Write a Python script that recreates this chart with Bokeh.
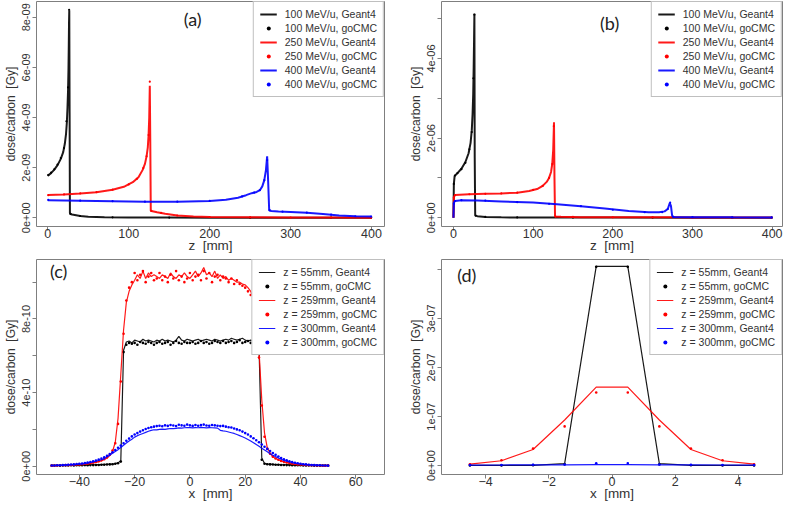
from bokeh.plotting import figure
from bokeh.models import FixedTicker, Legend, LegendItem, Label, Range1d
from bokeh.layouts import column, row
from bokeh.embed import file_html
from bokeh.resources import INLINE

# ---------------- Panel (a): depth dose, units of 1e-9 Gy ----------------
za_100 = [0, 4, 8, 12, 16, 19, 21, 22.5, 23.5, 24.3, 25.0, 25.5, 25.9, 26.2, 26.5, 26.9, 27.3, 28, 30, 35, 40, 50, 70, 100, 150, 200, 300, 400]
da_100 = [1.68, 1.78, 1.92, 2.1, 2.35, 2.62, 2.95, 3.35, 3.8, 4.4, 5.1, 5.9, 6.9, 7.8, 8.28, 4.2, 0.18, 0.15, 0.13, 0.1, 0.07, 0.04, 0.02, 0.012, 0.006, 0.004, 0.002, 0.001]
za_250 = [0, 20, 40, 60, 80, 95, 105, 112, 117, 120, 122, 123.5, 124.5, 125.3, 126, 126.6, 127.2, 128, 135, 145, 160, 180, 200, 250, 300, 350, 400]
da_250 = [0.91, 0.93, 0.97, 1.02, 1.12, 1.25, 1.42, 1.62, 1.9, 2.15, 2.45, 2.8, 3.3, 4.0, 5.27, 3.0, 0.28, 0.27, 0.22, 0.16, 0.09, 0.05, 0.03, 0.015, 0.01, 0.005, 0.003]
za_400 = [0, 40, 80, 120, 160, 200, 220, 235, 245, 252, 258, 262, 265, 267.5, 269.5, 271, 272.3, 273.5, 276, 285, 300, 320, 340, 360, 380, 400]
da_400 = [0.70, 0.68, 0.66, 0.64, 0.64, 0.67, 0.72, 0.8, 0.9, 0.98, 1.03, 1.1, 1.25, 1.5, 1.9, 2.45, 1.4, 0.3, 0.27, 0.25, 0.23, 0.2, 0.15, 0.09, 0.06, 0.05]
za_100_g = [0.5, 4, 8, 12, 16, 20, 23, 25, 26.3, 28, 40, 80, 150, 250, 350, 399.5]
da_100_g = [1.7, 1.8, 1.93, 2.12, 2.38, 2.78, 3.85, 5.2, 8.3, 0.15, 0.07, 0.015, 0.006, 0.003, 0.002, 0.001]
za_250_g = [0.5, 20, 40, 60, 80, 100, 110, 118, 122, 124.5, 126, 128, 140, 160, 200, 250, 300, 350, 399.5]
da_250_g = [0.9, 0.93, 0.97, 1.02, 1.12, 1.33, 1.55, 1.98, 2.45, 3.3, 5.43, 0.27, 0.19, 0.09, 0.03, 0.015, 0.01, 0.005, 0.003]
za_400_g = [0.5, 40, 80, 120, 160, 200, 240, 255, 262, 267.5, 271, 274, 290, 320, 350, 380, 399.5]
da_400_g = [0.71, 0.68, 0.66, 0.64, 0.64, 0.67, 0.85, 1.0, 1.1, 1.5, 2.3, 0.3, 0.24, 0.2, 0.12, 0.06, 0.05]

# ---------------- Panel (b): depth dose, units of 1e-6 Gy ----------------
zb_100 = [0, 0.5, 1.5, 5, 10, 15, 19, 21.5, 23, 24, 24.8, 25.4, 25.9, 26.3, 26.7, 27.3, 30, 40, 60, 100, 200, 300, 400]
db_100 = [0.0, 0.85, 1.05, 1.12, 1.23, 1.4, 1.62, 1.88, 2.2, 2.6, 3.1, 3.8, 4.5, 5.12, 1.5, 0.06, 0.04, 0.02, 0.01, 0.005, 0.003, 0.002, 0.001]
zb_250 = [0, 0.5, 2, 20, 40, 60, 80, 95, 105, 112, 117, 120, 122.5, 124, 125.2, 126.2, 126.8, 127.5, 135, 160, 200, 275, 300, 400]
db_250 = [0.0, 0.52, 0.57, 0.59, 0.6, 0.61, 0.63, 0.67, 0.72, 0.8, 0.9, 1.0, 1.15, 1.35, 1.7, 2.4, 1.0, 0.03, 0.025, 0.015, 0.01, 0.01, 0.005, 0.003]
zb_400 = [0, 0.5, 2, 10, 30, 60, 100, 130, 160, 190, 220, 245, 258, 265, 269, 271.5, 273, 274.5, 276, 300, 350, 400]
db_400 = [0.0, 0.38, 0.42, 0.44, 0.43, 0.41, 0.38, 0.34, 0.29, 0.23, 0.17, 0.14, 0.14, 0.16, 0.22, 0.37, 0.3, 0.05, 0.02, 0.015, 0.01, 0.008]
zb_100_g = [0.5, 2, 5, 10, 15, 20, 23, 25, 26.3, 28, 40, 80, 150, 250, 350, 399.5]
db_100_g = [0.85, 1.06, 1.12, 1.22, 1.38, 1.72, 2.15, 3.5, 5.1, 0.05, 0.02, 0.008, 0.004, 0.003, 0.002, 0.001]
zb_250_g = [0.5, 2, 20, 40, 60, 80, 100, 112, 120, 124, 126, 128, 150, 200, 250, 300, 350, 399.5]
db_250_g = [0.5, 0.57, 0.59, 0.6, 0.61, 0.63, 0.7, 0.8, 1.0, 1.35, 2.3, 0.03, 0.02, 0.01, 0.01, 0.005, 0.004, 0.003]
zb_400_g = [0.5, 2, 10, 40, 80, 120, 160, 200, 240, 262, 269, 272, 276, 300, 350, 399.5]
db_400_g = [0.35, 0.42, 0.44, 0.43, 0.39, 0.35, 0.29, 0.2, 0.14, 0.14, 0.22, 0.38, 0.02, 0.015, 0.01, 0.008]

# ---------------- Panel (c): lateral profiles, units of 1e-10 Gy ----------------
xc = [-50, -49, -48, -47, -46, -45, -44, -43, -42, -41,
      -40, -39, -38, -37, -36, -35, -34, -33, -32, -31,
      -30, -29, -28, -27, -26, -25, -24, -23, -22, -21,
      -20, -19, -18, -17, -16, -15, -14, -13, -12, -11,
      -10, -9, -8, -7, -6, -5, -4, -3, -2, -1,
      0, 1, 2, 3, 4, 5, 6, 7, 8, 9,
      10, 11, 12, 13, 14, 15, 16, 17, 18, 19,
      20, 21, 22, 23, 24, 25, 26, 27, 28, 29,
      30, 31, 32, 33, 34, 35, 36, 37, 38, 39,
      40, 41, 42, 43, 44, 45, 46, 47, 48, 49, 50]
dc_55 = [0.05, 0.05, 0.05, 0.05, 0.05, 0.06, 0.06, 0.06, 0.06, 0.06,
         0.07, 0.07, 0.07, 0.07, 0.08, 0.08, 0.08, 0.09, 0.09, 0.1,
         0.1, 0.11, 0.12, 0.14, 0.18, 0.3, 6.3, 6.75, 6.8, 6.7,
         6.85, 6.8, 6.75, 6.9, 6.8, 6.85, 6.8, 6.75, 6.85, 6.8,
         6.9, 6.8, 6.85, 6.8, 6.75, 6.85, 7.05, 6.85, 6.8, 6.9,
         6.85, 6.8, 6.85, 6.9, 6.8, 6.85, 6.9, 6.85, 6.8, 6.9,
         6.85, 6.8, 6.85, 6.9, 6.85, 6.95, 6.9, 6.85, 6.9, 6.95,
         6.85, 6.8, 6.85, 6.8, 6.75, 6.55, 0.45, 0.15, 0.12, 0.11,
         0.1, 0.09, 0.09, 0.08, 0.08, 0.08, 0.07, 0.07, 0.07, 0.06,
         0.06, 0.06, 0.06, 0.05, 0.05, 0.05, 0.05, 0.05, 0.05, 0.05, 0.05]
dc_259 = [0.03, 0.03, 0.04, 0.04, 0.04, 0.05, 0.05, 0.06, 0.07, 0.08,
          0.09, 0.1, 0.11, 0.13, 0.15, 0.18, 0.21, 0.25, 0.3, 0.37,
          0.45, 0.58, 0.8, 1.3, 2.6, 5.0, 7.4, 8.9, 9.5, 9.85,
          10.1, 10.4, 10.2, 10.6, 10.2, 10.5, 10.3, 10.4, 10.3, 10.2,
          10.4, 10.3, 10.2, 10.5, 10.3, 10.2, 10.4, 10.3, 10.5, 10.3,
          10.2, 10.4, 10.6, 10.3, 10.5, 10.8, 10.4, 10.5, 10.3, 10.6,
          10.2, 10.4, 10.2, 10.3, 10.1, 10.2, 10.1, 10.0, 10.0, 9.9,
          9.85, 9.7, 9.5, 9.1, 8.2, 6.3, 3.6, 1.8, 1.0, 0.7,
          0.52, 0.42, 0.35, 0.29, 0.24, 0.2, 0.17, 0.14, 0.12, 0.1,
          0.09, 0.08, 0.07, 0.06, 0.05, 0.05, 0.04, 0.04, 0.03, 0.03, 0.03]
dc_300 = [0.03, 0.04, 0.04, 0.05, 0.05, 0.06, 0.07, 0.08, 0.09, 0.1,
          0.12, 0.13, 0.15, 0.17, 0.2, 0.23, 0.27, 0.31, 0.35, 0.4,
          0.52, 0.6, 0.7, 0.8, 0.9, 1.02, 1.14, 1.26, 1.37, 1.47,
          1.58, 1.66, 1.72, 1.78, 1.84, 1.9, 1.95, 1.98, 1.97, 2.0,
          2.02, 2.0, 2.03, 2.05, 2.04, 2.06, 2.08, 2.07, 2.09, 2.1,
          2.1, 2.08, 2.1, 2.09, 2.11, 2.1, 2.08, 2.1, 2.09, 2.08,
          2.07, 1.95, 1.92, 1.9, 1.86, 1.82, 1.78, 1.72, 1.66, 1.6,
          1.53, 1.45, 1.37, 1.28, 1.18, 1.08, 0.98, 0.88, 0.78, 0.68,
          0.6, 0.52, 0.45, 0.38, 0.32, 0.27, 0.23, 0.2, 0.17, 0.14,
          0.12, 0.11, 0.09, 0.08, 0.07, 0.06, 0.05, 0.05, 0.04, 0.04, 0.03]
dc_55_g = [0.03, 0.03, 0.04, 0.03, 0.04, 0.04, 0.04, 0.05, 0.04, 0.05,
           0.05, 0.05, 0.06, 0.05, 0.06, 0.06, 0.07, 0.07, 0.08, 0.08,
           0.09, 0.1, 0.11, 0.13, 0.16, 0.25, 6.2, 6.6, 6.7, 6.65,
           6.7, 6.6, 6.75, 6.7, 6.65, 6.75, 6.7, 6.6, 6.7, 6.75,
           6.65, 6.7, 6.75, 6.6, 6.7, 6.8, 6.7, 6.65, 6.75, 6.7,
           6.7, 6.75, 6.65, 6.7, 6.8, 6.7, 6.75, 6.65, 6.7, 6.8,
           6.75, 6.7, 6.8, 6.7, 6.75, 6.8, 6.7, 6.75, 6.85, 6.7,
           6.75, 6.8, 6.7, 6.75, 6.7, 6.4, 0.35, 0.13, 0.11, 0.1,
           0.09, 0.08, 0.08, 0.07, 0.07, 0.06, 0.06, 0.05, 0.05, 0.05,
           0.05, 0.04, 0.04, 0.04, 0.04, 0.03, 0.03, 0.03, 0.03, 0.03, 0.03]
dc_259_g = [0.03, 0.04, 0.04, 0.05, 0.05, 0.06, 0.06, 0.07, 0.08, 0.09,
            0.1, 0.11, 0.13, 0.15, 0.17, 0.2, 0.23, 0.27, 0.32, 0.38,
            0.47, 0.62, 0.85, 1.25, 2.3, 4.6, 7.2, 9.0, 9.7, 10.0,
            10.5, 10.1, 10.4, 10.6, 10.0, 10.3, 10.5, 10.1, 10.2, 10.5,
            10.1, 10.3, 10.0, 10.4, 10.2, 10.6, 10.1, 10.3, 10.0, 10.2,
            10.5, 10.1, 10.3, 10.4, 10.1, 10.6, 10.2, 10.5, 10.0, 10.3,
            10.4, 10.1, 10.3, 10.2, 10.0, 10.2, 9.9, 10.1, 9.9, 9.8,
            9.7, 9.5, 9.3, 8.9, 7.8, 5.9, 3.3, 1.6, 0.95, 0.68,
            0.52, 0.42, 0.35, 0.29, 0.24, 0.2, 0.17, 0.14, 0.12, 0.1,
            0.09, 0.08, 0.07, 0.06, 0.05, 0.05, 0.04, 0.04, 0.03, 0.03, 0.03]
dc_300_g = [0.04, 0.04, 0.05, 0.05, 0.06, 0.07, 0.08, 0.09, 0.1, 0.12,
            0.13, 0.15, 0.17, 0.2, 0.23, 0.27, 0.31, 0.36, 0.42, 0.48,
            0.56, 0.66, 0.76, 0.88, 1.0, 1.12, 1.25, 1.38, 1.5, 1.62,
            1.72, 1.8, 1.88, 1.95, 2.02, 2.08, 2.12, 2.15, 2.18, 2.2,
            2.17, 2.22, 2.19, 2.24, 2.21, 2.18, 2.25, 2.22, 2.2, 2.26,
            2.22, 2.19, 2.24, 2.2, 2.23, 2.26, 2.21, 2.2, 2.24, 2.22,
            2.2, 2.18, 2.19, 2.15, 2.12, 2.1, 2.05, 2.0, 1.95, 1.88,
            1.8, 1.72, 1.62, 1.52, 1.41, 1.3, 1.18, 1.06, 0.94, 0.83,
            0.72, 0.62, 0.53, 0.45, 0.38, 0.32, 0.27, 0.22, 0.19, 0.16,
            0.13, 0.11, 0.1, 0.08, 0.07, 0.06, 0.05, 0.05, 0.04, 0.04, 0.03]

# ---------------- Panel (d): lateral profiles, units of 1e-7 Gy ----------------
xd = [-4.5, -3.5, -2.5, -1.5, -0.5, 0.5, 1.5, 2.5, 3.5, 4.5]
dd_55 = [0.005, 0.005, 0.005, 0.04, 4.06, 4.06, 0.04, 0.005, 0.005, 0.005]
dd_259 = [0.03, 0.1, 0.33, 0.93, 1.6, 1.6, 0.93, 0.33, 0.1, 0.03]
dd_300 = [0.012, 0.014, 0.016, 0.018, 0.02, 0.02, 0.018, 0.016, 0.014, 0.012]
dd_55_g = [0.005, 0.005, 0.01, 0.03, 4.05, 4.05, 0.03, 0.01, 0.005, 0.005]
dd_259_g = [0.03, 0.11, 0.35, 0.8, 1.49, 1.49, 0.8, 0.35, 0.11, 0.03]
dd_300_g = [0.012, 0.015, 0.02, 0.025, 0.05, 0.05, 0.025, 0.02, 0.015, 0.012]

labels_ab = ["100 MeV/u, Geant4", "100 MeV/u, goCMC", "250 MeV/u, Geant4",
             "250 MeV/u, goCMC", "400 MeV/u, Geant4", "400 MeV/u, goCMC"]
labels_cd = ["z = 55mm, Geant4", "z = 55mm, goCMC", "z = 259mm, Geant4",
             "z = 259mm, goCMC", "z = 300mm, Geant4", "z = 300mm, goCMC"]

FONT = "Liberation Sans"
GRAY = "#7f7f7f"
TXT = "#333333"
YTITLE = "dose/carbon \u00a0[Gy]"
ZTITLE = "z \u00a0[mm]"
XTITLE = "x \u00a0[mm]"


def make_fig(width, height, xr, yr, mbl, mbr, mbt, xticks, yticks, ylabs, xlabel):
    p = figure(width=width, height=height, x_range=Range1d(*xr), y_range=Range1d(*yr),
               output_backend="svg", toolbar_location=None,
               min_border_left=mbl, min_border_right=mbr, min_border_top=mbt,
               min_border_bottom=5)
    p.grid.visible = False
    p.outline_line_color = GRAY
    p.outline_line_width = 1
    p.background_fill_color = "white"
    p.border_fill_color = "white"
    for ax in (p.xaxis[0], p.yaxis[0]):
        ax.axis_line_color = None
        ax.major_tick_line_color = GRAY
        ax.major_tick_out = 4
        ax.major_tick_in = 0
        ax.minor_tick_line_color = None
        ax.major_label_text_color = TXT
        ax.major_label_text_font = FONT
        ax.axis_label_text_color = TXT
        ax.axis_label_text_font = FONT
        ax.axis_label_text_font_style = "normal"
    p.yaxis.major_label_standoff = 2
    p.yaxis.axis_label_standoff = 2
    p.xaxis.major_label_standoff = -2
    p.xaxis.axis_label_standoff = -3
    p.xaxis.ticker = FixedTicker(ticks=xticks)
    p.xaxis.major_label_text_font_size = "12.5px"
    p.xaxis.axis_label_text_font_size = "13.5px"
    p.xaxis.axis_label = xlabel
    p.yaxis.ticker = FixedTicker(ticks=yticks)
    p.yaxis.major_label_overrides = {t: s for t, s in zip(yticks, ylabs)}
    p.yaxis.major_label_orientation = "vertical"
    p.yaxis.major_label_text_font_size = "11px"
    p.yaxis.axis_label_text_font_size = "12px"
    p.yaxis.axis_label = YTITLE
    return p


def add_series(p, series, labels, lw, dot):
    items = []
    for (x, y, xg, yg, col), (l1, l2) in zip(series, zip(labels[0::2], labels[1::2])):
        r1 = p.line(x, y, line_color=col, line_width=lw, line_alpha=0.9)
        r2 = p.scatter(xg, yg, size=dot, color=col, line_width=0)
        items.append(LegendItem(label=l1, renderers=[r1]))
        items.append(LegendItem(label=l2, renderers=[r2]))
    leg = Legend(items=items, location="top_right", margin=0, padding=6, spacing=2,
                 glyph_width=17, glyph_height=10, label_height=10, label_standoff=8,
                 label_text_font=FONT, label_text_font_size="10.5px", label_text_color=TXT,
                 border_line_color=GRAY, border_line_width=1, background_fill_alpha=1.0)
    p.add_layout(leg)


def add_tag(p, x, y, text):
    p.add_layout(Label(x=x, y=y, text=text, text_font="Lato", text_font_size="18px",
                       text_color="#222222", text_align="center", text_baseline="middle"))


pa = make_fig(396, 255, (-14, 416), (-0.35, 8.63), 35, 12, 1,
              [0, 100, 200, 300, 400], [0, 2, 4, 6, 8],
              ["0e+00", "2e-09", "4e-09", "6e-09", "8e-09"], ZTITLE)
add_series(pa, [(za_100, da_100, za_100_g, da_100_g, "black"),
                (za_250, da_250, za_250_g, da_250_g, "red"),
                (za_400, da_400, za_400_g, da_400_g, "blue")], labels_ab, 2, 2.2)
add_tag(pa, 179, 7.95, "(a)")

pb = make_fig(387, 255, (-15, 413), (-0.22, 5.43), 45, 1, 1,
              [0, 100, 200, 300, 400], [0, 1, 2, 3, 4, 5],
              ["0e+00", "", "2e-06", "", "4e-06", ""], ZTITLE)
add_series(pb, [(zb_100, db_100, zb_100_g, db_100_g, "black"),
                (zb_250, db_250, zb_250_g, db_250_g, "red"),
                (zb_400, db_400, zb_400_g, db_400_g, "blue")], labels_ab, 2, 2.2)
add_tag(pb, 196, 4.89, "(b)")

pc = make_fig(396, 248, (-55.5, 70.4), (-0.45, 11.23), 35, 12, 4,
              [-40, -20, 0, 20, 40, 60], [0, 2, 4, 6, 8, 10],
              ["0e+00", "", "4e-10", "", "8e-10", ""], XTITLE)
add_series(pc, [(xc, dc_55, xc, dc_55_g, "black"),
                (xc, dc_259, xc, dc_259_g, "red"),
                (xc, dc_300, xc, dc_300_g, "blue")], labels_cd, 1.2, 2.6)
add_tag(pc, -47.5, 10.58, "(c)")

pd_ = make_fig(387, 248, (-5.4, 5.4), (-0.18, 4.2), 45, 1, 4,
               [-4, -2, 0, 2, 4], [0, 1, 2, 3, 4],
               ["0e+00", "1e-07", "2e-07", "3e-07", ""], XTITLE)
add_series(pd_, [(xd, dd_55, xd, dd_55_g, "black"),
                 (xd, dd_259, xd, dd_259_g, "red"),
                 (xd, dd_300, xd, dd_300_g, "blue")], labels_cd, 1.2, 2.6)
add_tag(pd_, -4.6, 3.89, "(d)")

layout = column(row(pa, pb), row(pc, pd_))
open("out.html", "w").write(file_html(layout, INLINE))
